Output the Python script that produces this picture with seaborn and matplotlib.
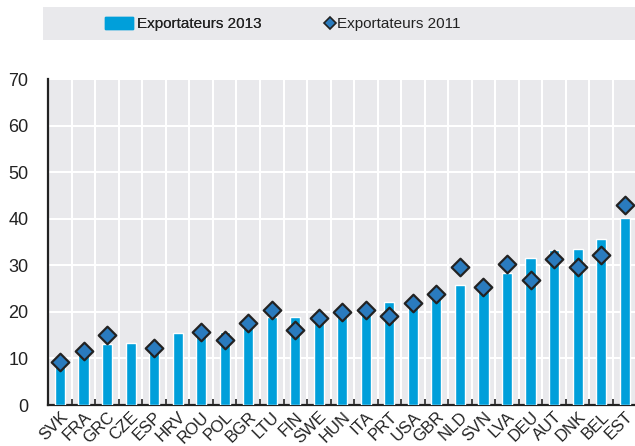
import numpy as np
import pandas as pd
import matplotlib.pyplot as plt
import matplotlib.patches as mpatches
from matplotlib.lines import Line2D
import seaborn as sns

# ── Data ────────────────────────────────────────────
countries = ['SVK', 'FRA', 'GRC', 'CZE', 'ESP', 'HRV', 'ROU', 'POL', 'BGR', 'LTU',
             'FIN', 'SWE', 'HUN', 'ITA', 'PRT', 'USA', 'GBR', 'NLD', 'SVN', 'LVA',
             'DEU', 'AUT', 'DNK', 'BEL', 'EST']
exp_2013 = [9.0, 11.5, 13.1, 13.3, 13.5, 15.4, 15.2, 15.7, 17.4, 18.8,
            19.0, 18.4, 19.5, 19.8, 22.2, 21.4, 23.0, 25.8, 26.3, 28.4,
            31.5, 33.2, 33.6, 35.7, 40.2]
exp_2011 = [9.3, 11.7, 15.1, np.nan, 12.2, np.nan, 15.6, 14.0, 17.7, 20.4,
            16.0, 18.7, 19.9, 20.3, 19.2, 21.8, 23.9, 29.6, 25.3, 30.3,
            26.9, 31.4, 29.7, 32.2, 43.0]

df = pd.DataFrame({'pays': countries, 'e2013': exp_2013, 'e2011': exp_2011})

BAR = '#009FDA'
DIAM = '#2A7BBE'
BG = '#E9E9EC'
DARK = '#222222'

sns.set_theme(style='white')
plt.rcParams['font.family'] = ['Liberation Sans', 'DejaVu Sans']

fig = plt.figure(figsize=(6.35, 4.46), dpi=100)
ax = fig.add_axes([48 / 635, 1 - 405 / 446, 1 - 48 / 635, (405 - 79) / 446])
ax.set_facecolor(BG)

sns.barplot(data=df, x='pays', y='e2013', color=BAR, width=0.43,
            saturation=1, ax=ax, zorder=3)
sns.scatterplot(data=df.dropna(), x='pays', y='e2011', marker='D', s=80,
                color=DIAM, edgecolor=DARK, linewidth=1.6, ax=ax, zorder=4)

n = len(countries)
ax.set_xlim(-0.51, n - 0.56)
ax.set_ylim(0, 70)
ax.set_yticks(range(0, 71, 10))
ax.set_xticks(range(n))
ax.set_xticklabels(countries, rotation=45, ha='right', rotation_mode='anchor')
ax.set_xticks(np.arange(0.5, n - 0.5, 1), minor=True)
ax.set_xlabel('')
ax.set_ylabel('')

# grille blanche : horizontale sur les graduations, verticale entre les pays
ax.grid(axis='y', which='major', color='white', linewidth=1.5, zorder=0)
ax.grid(axis='x', which='minor', color='white', linewidth=1.5, zorder=0)
ax.set_axisbelow(True)

for s in ['top', 'right']:
    ax.spines[s].set_visible(False)
for s in ['left', 'bottom']:
    ax.spines[s].set_color(DARK)
    ax.spines[s].set_linewidth(1.6)

ax.tick_params(axis='y', direction='in', length=4, width=1.4, color=DARK,
               labelsize=13, labelcolor=DARK, pad=14)
ax.tick_params(axis='x', which='major', length=0, labelsize=12,
               labelcolor=DARK, pad=3)
ax.tick_params(axis='x', which='minor', direction='in', length=4, width=1.2,
               color=DARK, bottom=True)

# ── Bandeau de légende ──────────────────────────────
fig.patches.append(mpatches.Rectangle((43 / 635, 1 - 40 / 446), 592 / 635, 33 / 446,
                                      transform=fig.transFigure, facecolor=BG,
                                      edgecolor='none', zorder=0))
h1 = mpatches.Patch(color=BAR, label='Exportateurs 2013')
h2 = Line2D([], [], marker='D', linestyle='none', markersize=6,
            markerfacecolor=DIAM, markeredgecolor=DARK, markeredgewidth=1.2,
            label='Exportateurs 2011')
leg_kw = dict(loc='center left', frameon=False, fontsize=11, labelcolor=DARK,
              borderpad=0, borderaxespad=0)
leg1 = fig.legend(handles=[h1], bbox_to_anchor=(105 / 635, 1 - 24 / 446),
                  handlelength=1.85, handleheight=0.85, handletextpad=0.26, **leg_kw)
fig.add_artist(leg1)
fig.legend(handles=[h2], bbox_to_anchor=(326 / 635, 1 - 24 / 446),
           handlelength=0.58, handletextpad=0.15, **leg_kw)

fig.savefig('out.png', dpi=100)
